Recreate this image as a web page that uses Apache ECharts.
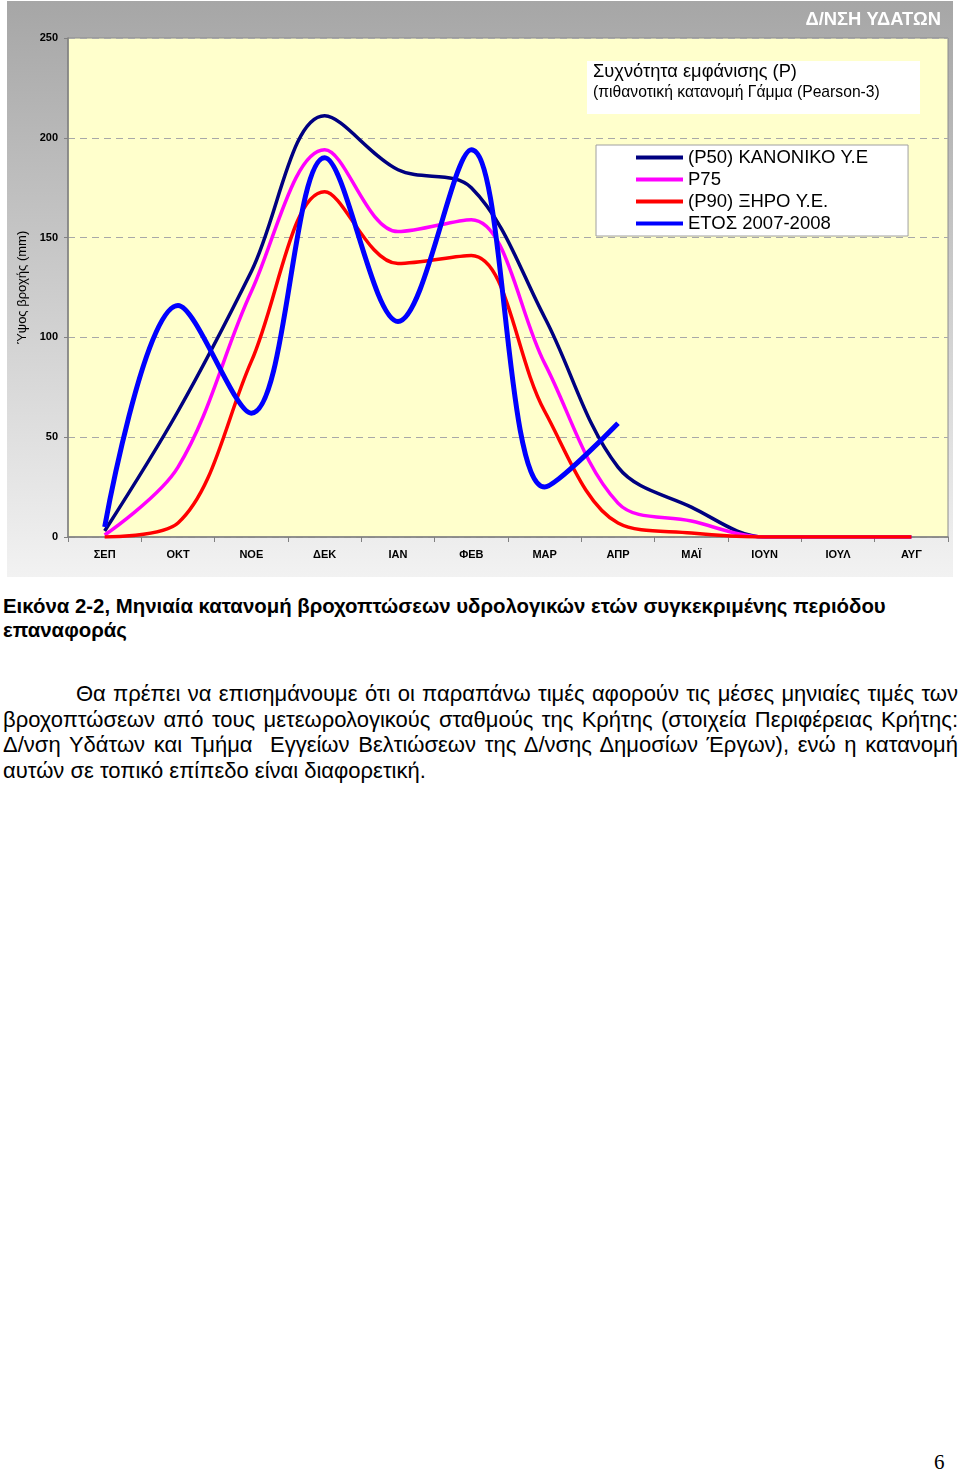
<!DOCTYPE html>
<html>
<head>
<meta charset="utf-8">
<script src="https://cdn.jsdelivr.net/npm/echarts@6/dist/echarts.min.js"></script>
<style>
  html, body { margin: 0; padding: 0; background: #fff; }
  body { width: 960px; height: 1471px; position: relative; overflow: hidden; font-family: "Liberation Sans", Arial, sans-serif; }
  #chart { position: absolute; left: 0; top: 0; width: 960px; height: 580px; }
  #caption { position: absolute; left: 3px; top: 594px; width: 955px; font-weight: bold; font-size: 20.4px; line-height: 24px; color: #000; white-space: nowrap; }
  #para { position: absolute; left: 3px; top: 681px; width: 955px; font-size: 22px; line-height: 25.7px; color: #000; }
  #para div { text-align: justify; text-align-last: justify; white-space: nowrap; width: 955px; box-sizing: border-box; }
  #para div.first { padding-left: 73px; }
  #para div.last { text-align: left; text-align-last: left; }
  #page { position: absolute; left: 934px; top: 1450px; font-family: "Liberation Serif", "Times New Roman", serif; font-size: 21px; }
</style>
</head>
<body>
<div id="chart"></div>
<div id="caption">Εικόνα 2-2, Μηνιαία κατανομή βροχοπτώσεων υδρολογικών ετών συγκεκριμένης περιόδου<br>επαναφοράς</div>
<div id="para">
  <div class="first">Θα πρέπει να επισημάνουμε ότι οι παραπάνω τιμές αφορούν τις μέσες μηνιαίες τιμές των</div>
  <div>βροχοπτώσεων από τους μετεωρολογικούς σταθμούς της Κρήτης (στοιχεία Περιφέρειας Κρήτης:</div>
  <div>Δ/νση Υδάτων και Τμήμα&nbsp; Εγγείων Βελτιώσεων της Δ/νσης Δημοσίων Έργων), ενώ η κατανομή</div>
  <div class="last">αυτών σε τοπικό επίπεδο είναι διαφορετική.</div>
</div>
<div id="page">6</div>
<script>
// ---- data ----
const months = ['ΣΕΠ', 'ΟΚΤ', 'ΝΟΕ', 'ΔΕΚ', 'ΙΑΝ', 'ΦΕΒ', 'ΜΑΡ', 'ΑΠΡ', 'ΜΑΪ', 'ΙΟΥΝ', 'ΙΟΥΛ', 'ΑΥΓ'];
const p50 = [3, 63, 133, 211, 184, 175, 110, 35, 15, 0, 0, 0];
const p75 = [1, 35, 123, 194, 153, 159, 87, 17, 8, 0, 0, 0];
const p90 = [0, 7, 88, 173, 137, 141, 63, 7, 2, 0, 0, 0];
const year0708 = [5, 116, 62, 190, 108, 194, 25, 57];
const seriesNames = ['(P50) ΚΑΝΟΝΙΚΟ Υ.Ε', 'P75', '(P90) ΞΗΡΟ Υ.Ε.', 'ΕΤΟΣ 2007-2008'];
const yTicks = { min: 0, max: 250, interval: 50 };

// shrink word spacing of justified lines if they overflow
document.querySelectorAll('#para div').forEach(function (d) {
  let ws = 0;
  while (d.scrollWidth > d.clientWidth + 0.5 && ws > -6) {
    ws -= 0.25;
    d.style.wordSpacing = ws + 'px';
  }
});

const chart = echarts.init(document.getElementById('chart'), null, { renderer: 'canvas' });
const FONT = '"Liberation Sans", Arial, sans-serif';

function lineSeries(name, data, color, width, z) {
  return {
    name: name, type: 'line', data: data, smooth: 0.35,
    symbol: 'none', showSymbol: false, z: z,
    lineStyle: { color: color, width: width },
    itemStyle: { color: color }
  };
}

chart.setOption({
  animation: false,
  backgroundColor: '#ffffff',
  textStyle: { fontFamily: FONT },
  graphic: [
    {
      type: 'rect', z: -10, silent: true,
      shape: { x: 7, y: 1, width: 946, height: 576 },
      style: {
        fill: new echarts.graphic.LinearGradient(0, 0, 0, 1, [
          { offset: 0, color: '#a6a6a6' },
          { offset: 1, color: '#f2f2f2' }
        ])
      }
    },
    {
      type: 'text', right: 19, top: 11, z: 10,
      style: { text: 'Δ/ΝΣΗ ΥΔΑΤΩΝ', fill: '#ffffff', font: 'bold 18.4px ' + FONT }
    },
    {
      type: 'rect', z: 5, silent: true,
      shape: { x: 587, y: 61, width: 333, height: 53 },
      style: { fill: '#ffffff' }
    },
    {
      type: 'text', left: 593, top: 63, z: 10,
      style: { text: 'Συχνότητα εμφάνισης (Ρ)', fill: '#000', font: '18.3px ' + FONT }
    },
    {
      type: 'text', left: 593, top: 85, z: 10,
      style: { text: '(πιθανοτική κατανομή Γάμμα (Pearson-3)', fill: '#000', font: '15.7px ' + FONT }
    }
  ],
  legend: {
    orient: 'vertical',
    left: 596, top: 145,
    data: seriesNames,
    icon: 'rect',
    itemWidth: 47, itemHeight: 4, itemGap: 3,
    padding: [3, 40, 3, 40],
    backgroundColor: '#ffffff',
    borderColor: '#a0a0a0', borderWidth: 1,
    textStyle: { fontSize: 18.5, lineHeight: 18, color: '#000', fontFamily: FONT },
    z: 20
  },
  grid: {
    left: 68, top: 38, width: 880, height: 499,
    show: true, backgroundColor: '#ffffcc', borderColor: '#8c8c8c', borderWidth: 1
  },
  xAxis: {
    type: 'category', data: months, boundaryGap: true,
    axisLine: { show: true, lineStyle: { color: '#808080', width: 1.5 } },
    axisTick: { show: true, alignWithLabel: false, length: 5, lineStyle: { color: '#808080' } },
    axisLabel: { color: '#000', fontWeight: 'bold', fontSize: 11, margin: 12, fontFamily: FONT },
    splitLine: { show: false }
  },
  yAxis: {
    type: 'value', min: yTicks.min, max: yTicks.max, interval: yTicks.interval,
    name: 'Ύψος βροχής (mm)', nameLocation: 'middle', nameGap: 33, nameRotate: 90,
    nameTextStyle: { color: '#000', fontSize: 13, fontFamily: FONT },
    axisLine: { show: true, lineStyle: { color: '#808080', width: 1.5 } },
    axisTick: { show: true, length: 4, lineStyle: { color: '#808080' } },
    axisLabel: { color: '#000', fontWeight: 'bold', fontSize: 11, margin: 10, fontFamily: FONT },
    splitLine: { show: true, lineStyle: { color: '#a8a8a8', type: [7, 5], width: 1 } }
  },
  series: [
    lineSeries(seriesNames[0], p50, '#000080', 3.5, 2),
    lineSeries(seriesNames[1], p75, '#ff00ff', 3.5, 2),
    lineSeries(seriesNames[2], p90, '#ff0000', 3.5, 2),
    lineSeries(seriesNames[3], year0708, '#0000ff', 5, 3)
  ]
});
</script>
</body>
</html>
